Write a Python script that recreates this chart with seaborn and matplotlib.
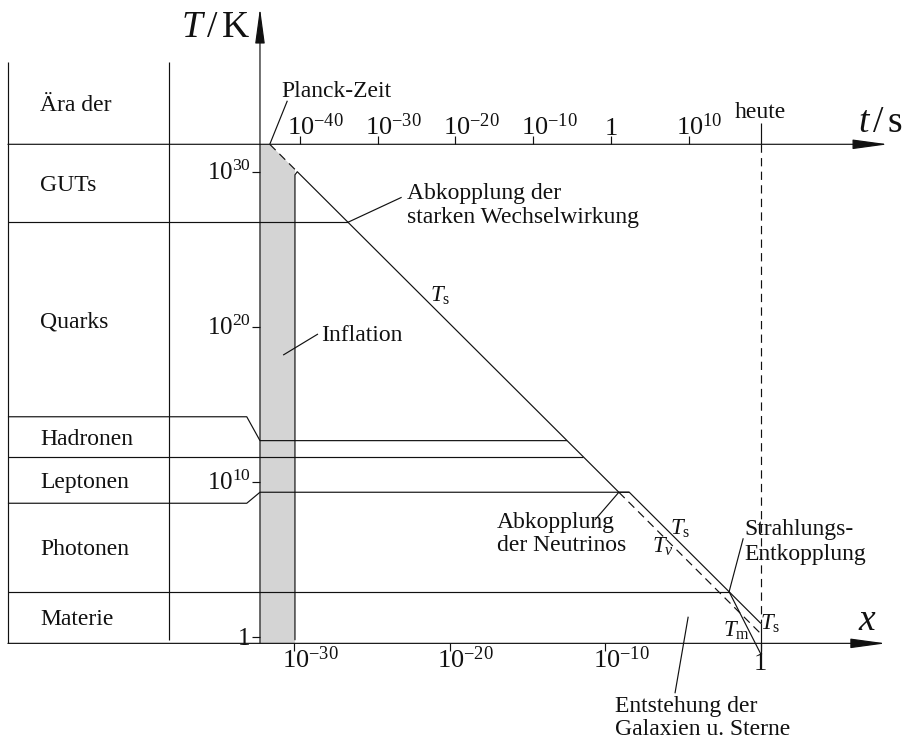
import numpy as np
import pandas as pd
import matplotlib
matplotlib.use("Agg")
import matplotlib.pyplot as plt
import seaborn as sns

# ---------------------------------------------------------------------------
# Data: every value is a decimal exponent, log10(x) horizontally and
# log10(T / K) vertically.
# ---------------------------------------------------------------------------
T_tick_exp = [0, 10, 20, 30]                 # ticks on the temperature axis
x_tick_exp = [-30, -20, -10, 0]              # ticks on the scale-factor axis
t_tick_exp = [-40, -30, -20, -10, 0, 10]     # ticks on the time axis (seconds)
t_offset, t_slope = -9.63, 0.5               # log10 x = t_offset + t_slope*log10 t

era_names = ["Ära der", "GUTs", "Quarks", "Hadronen", "Leptonen", "Photonen", "Materie"]
era_bounds_table = [37.08, 31.77, 26.74, 14.19, 11.61, 8.61, 2.90, -0.43]

T_planck = 31.77        # Planck temperature (time axis level)
T_gut = 26.74           # end of the GUT era
T_hadron = 12.65        # quark -> hadron transition
T_lepton = 11.61        # hadron -> lepton transition
T_photon = 9.32         # end of the lepton era / neutrino decoupling
T_decoupling = 2.90     # recombination, radiation decoupling
T_bottom = -0.43        # lower edge (scale-factor axis)

logx_T_axis = -32.2     # the temperature axis sits at this scale factor
logx_infl_end = -29.95  # end of inflation (reheating)

# radiation temperature T_s
Ts_logx = [-29.95, -29.95, -29.8, -9.12, -8.45, 0.0]
Ts_logT = [-0.2, 29.8, 30.0, 9.32, 9.32, 0.87]
# neutrino temperature T_nu
Tnu_logx = [-9.12, 0.0]
Tnu_logT = [9.32, 0.2]
# matter temperature T_m after decoupling
Tm_logx = [-2.03, 0.0]
Tm_logT = [2.90, -1.10]
# temperature without inflation
Tpre_logx = [-31.57, -29.95]
Tpre_logT = [31.77, 30.15]

# ---------------------------------------------------------------------------
sns.set_style("white")
plt.rcParams["font.family"] = ["Liberation Serif", "DejaVu Serif"]
plt.rcParams["mathtext.fontset"] = "custom"
plt.rcParams["mathtext.rm"] = "Liberation Serif"
plt.rcParams["mathtext.it"] = "Liberation Serif:italic"
plt.rcParams["mathtext.bf"] = "Liberation Serif:bold"

INK = "#111111"
GRAY = "#d4d4d4"
LW = 0.85
FS = 17        # normal text
FS_TICK = 18   # temperature tick labels
FS_TICK_X = 19 # time and scale-factor tick labels
FS_BIG = 27    # axis names
DASH = (0, (7, 4.5))

fig = plt.figure(figsize=(9.09, 7.41), dpi=100)
ax = fig.add_axes([0, 0, 1, 1])
ax.set_xscale("log")
ax.set_yscale("log")


def P(v):
    return 10.0 ** np.asarray(v, dtype=float)


def seg(lx, lT, **kw):
    kw.setdefault("color", INK)
    kw.setdefault("lw", LW)
    ax.plot(P(lx), P(lT), solid_capstyle="butt", **kw)


def curve(lx, lT, **kw):
    df = pd.DataFrame({"x": P(lx), "T": P(lT)})
    sns.lineplot(data=df, x="x", y="T", sort=False, estimator=None, ax=ax,
                 color=INK, lw=LW, **kw)


def label(lx, lT, s, dx=0, dy=0, ha="left", size=FS, **kw):
    ax.annotate(s, xy=(P(lx), P(lT)), xytext=(dx, dy), textcoords="offset points",
                ha=ha, va="baseline", fontsize=size, color=INK, **kw)


def arrow(start, tip):
    ax.annotate("", xy=(P(tip[0]), P(tip[1])), xytext=(P(start[0]), P(start[1])),
                arrowprops=dict(arrowstyle="-|>,head_length=2.2,head_width=0.3",
                                mutation_scale=10, lw=LW, color=INK,
                                shrinkA=0, shrinkB=0))


# layout of the era table on the left
logx_left = -48.41
logx_col = -38.05
logx_slant = -33.05
tick_len = 0.52

# intersections of the era boundaries with the radiation temperature
c_early = Ts_logT[2] + Ts_logx[2]
c_late = Ts_logT[-1] + Ts_logx[-1]

# inflation band
ax.fill(P([logx_T_axis, logx_T_axis, Tpre_logx[0], Tpre_logx[1], logx_infl_end]),
        P([T_bottom, T_planck, T_planck, Tpre_logT[1], T_bottom]),
        color=GRAY, lw=0, zorder=0)

# table frame
seg([logx_left, logx_left], [T_bottom, era_bounds_table[0]])
seg([logx_col, logx_col], [T_bottom + 0.2, era_bounds_table[0]])

# era boundaries
seg([logx_left, c_early - T_gut], [T_gut, T_gut])
seg([logx_left, logx_slant, logx_T_axis, c_early - T_hadron],
    [era_bounds_table[3], era_bounds_table[3], T_hadron, T_hadron])
seg([logx_left, c_early - T_lepton], [T_lepton, T_lepton])
seg([logx_left, logx_slant, logx_T_axis, Ts_logx[4]],
    [era_bounds_table[5], era_bounds_table[5], T_photon, T_photon])
seg([logx_left, c_late - T_decoupling], [T_decoupling, T_decoupling])

# temperature curves
curve(Ts_logx, Ts_logT)
curve(Tnu_logx, Tnu_logT, linestyle=DASH)
curve(Tm_logx, Tm_logT)
curve(Tpre_logx, Tpre_logT, linestyle=DASH)

# today
seg([0, 0], [T_planck, Ts_logT[-1]], linestyle=DASH)
seg([0, 0], [Ts_logT[-1], Tm_logT[-1]])
seg([0, 0], [T_planck, T_planck + 1.35])
label(0, T_planck, "heute", dy=18.7, ha="center")

# axes with arrows
arrow((logx_T_axis, T_bottom), (logx_T_axis, 40.56))
arrow((logx_left, T_planck), (8.19, T_planck))
arrow((logx_left, T_bottom), (8.05, T_bottom))

# temperature ticks
for e in T_tick_exp:
    seg([logx_T_axis - tick_len, logx_T_axis], [e, e])
    s = "1" if e == 0 else rf"$10^{{{e}}}$"
    label(logx_T_axis, e, s, dx=-6.6, dy=-5.8, ha="right", size=FS_TICK)

# scale-factor ticks
for e in x_tick_exp:
    seg([e, e], [T_bottom, T_bottom - tick_len])
    if e == 0:
        label(e, T_bottom, "1", dy=-19.5, ha="center", size=FS_TICK_X)
    else:
        label(e, T_bottom, rf"$10^{{{e}}}$", dx=-9, dy=-18, size=FS_TICK_X)

# time ticks
for e in t_tick_exp:
    lx = t_offset + t_slope * e
    seg([lx, lx], [T_planck, T_planck + tick_len])
    if e == 0:
        label(lx, T_planck, "1", dy=6.7, ha="center", size=FS_TICK_X)
    else:
        label(lx, T_planck, rf"$10^{{{e}}}$", dx=-9, dy=6.7, size=FS_TICK_X)

# axis names
label(-32.84, 38.69, r"$T\,/\,\mathrm{K}$", ha="right", size=FS_BIG)
label(6.26, 32.56, r"$t\,/\,\mathrm{s}$", size=FS_BIG)
label(6.26, 0.43, r"$x$", size=FS_BIG)

# era names
for name, hi, lo in zip(era_names, era_bounds_table[:-1], era_bounds_table[1:]):
    label(-46.32, (hi + lo) / 2, name, dy=-5.6)

# curve labels
label(-21.27, 21.61, r"$T_\mathrm{s}$", size=16.5)
label(-5.83, 6.56, r"$T_\mathrm{s}$", size=16.5)
label(-7.01, 5.40, r"$T_\nu$", size=16.5)
label(-0.05, 0.43, r"$T_\mathrm{s}$", size=16.5)
label(-2.42, 0.0, r"$T_\mathrm{m}$", size=16.5)

# annotations with leader lines
seg([Tpre_logx[0], -30.44], [T_planck, 34.58])
label(-30.80, 34.82, "Planck-Zeit")

seg([c_early - T_gut, -23.09], [T_gut, 28.35])
label(-22.73, 28.24, "Abkopplung der")
label(-22.73, 26.69, "starken Wechselwirkung")

seg([-30.71, -28.47], [18.17, 19.53])
label(-28.28, 19.08, "Inflation")

seg([Tnu_logx[0], -10.66], [Tnu_logT[0], 7.53])
label(-16.96, 7.01, "Abkopplung")
label(-16.96, 5.53, "der Neutrinos")

seg([Tm_logx[0], -1.12], [Tm_logT[0], 6.35])
label(-1.05, 6.56, "Strahlungs-")
label(-1.05, 4.95, "Entkopplung")

seg([-4.66, -5.51], [1.29, -3.65])
label(-9.37, -4.84, "Entstehung der")
label(-9.37, -6.34, "Galaxien u. Sterne")

ax.set_xlim(P(-48.92), P(9.54))
ax.set_ylim(P(-6.73), P(41.08))
ax.axis("off")

fig.savefig("out.png", dpi=100)
